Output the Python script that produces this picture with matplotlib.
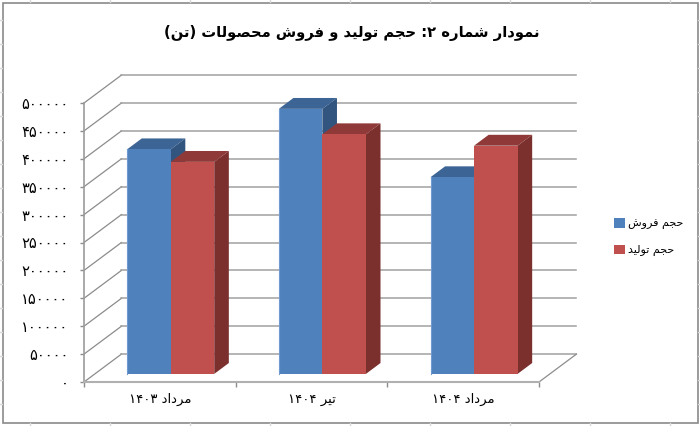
'''
Grouped 3D-look column chart: sales and production volume (tons).
'''

# imports
import matplotlib
matplotlib.use('Agg')
import matplotlib.pyplot as plt
import numpy as np

# the data
categories = ['مرداد ۱۴۰۳', 'تیر ۱۴۰۴', 'مرداد ۱۴۰۴']
sales = [402500, 475000, 352500]
production = [380000, 429500, 409000]
series_names = ['حجم فروش', 'حجم تولید']
y_ticks = [0, 50000, 100000, 150000, 200000, 250000, 300000, 350000, 400000, 450000, 500000]
title = 'نمودار شماره ۲: حجم تولید و فروش محصولات (تن)'

# Arabic presentation forms: isolated, final, initial, medial
forms = {
    'ا': 'ﺍﺎ', 'د': 'ﺩﺪ', 'ر': 'ﺭﺮ', 'و': 'ﻭﻮ',
    'ب': 'ﺏﺐﺑﺒ', 'ت': 'ﺕﺖﺗﺘ', 'ج': 'ﺝﺞﺟﺠ', 'ح': 'ﺡﺢﺣﺤ',
    'ش': 'ﺵﺶﺷﺸ', 'ص': 'ﺹﺺﺻﺼ', 'ف': 'ﻑﻒﻓﻔ', 'ل': 'ﻝﻞﻟﻠ',
    'م': 'ﻡﻢﻣﻤ', 'ن': 'ﻥﻦﻧﻨ', 'ی': 'ﯼﯽﯾﯿ',
}
no_left_join = 'ادرو'


def shape(text):
    # matplotlib has no Arabic shaping, so join the letters and lay them out right to left
    out = []
    for i, ch in enumerate(text):
        if ch not in forms:
            out.append({'(': ')', ')': '('}.get(ch, ch))
            continue
        before = i > 0 and text[i - 1] in forms and text[i - 1] not in no_left_join
        after = i + 1 < len(text) and text[i + 1] in forms and ch not in no_left_join
        if before and after:
            out.append(forms[ch][3])
        elif after:
            out.append(forms[ch][2])
        elif before:
            out.append(forms[ch][1])
        else:
            out.append(forms[ch][0])
    out = out[::-1]
    # digit runs still read left to right
    res, run = [], []
    for ch in out:
        if ch in '۰۱۲۳۴۵۶۷۸۹':
            run.append(ch)
        else:
            res.extend(run[::-1])
            run = []
            res.append(ch)
    res.extend(run[::-1])
    return ''.join(res)


def persian_number(v):
    return str(v).translate(str.maketrans('0123456789', '۰۱۲۳۴۵۶۷۸۹'))


plt.rcParams['font.family'] = ['DejaVu Sans']

W, H = 700, 426
fig = plt.figure(figsize=(W / 100, H / 100), dpi=100)
ax = fig.add_axes([84 / W, 1 - 382 / H, 455 / W, 279 / H])
ax.set_xlim(0, 3)
ax.set_ylim(0, 500000)
ax.patch.set_visible(False)
for s in ax.spines.values():
    s.set_visible(False)

# depth of the box in data units
depth_x = 0.247
depth_y = 50000
bar_width = 0.287
bar_front = 0.29
bar_back = 0.68
grid_color = '#a0a0a0'

# walls
for v in y_ticks:
    ax.plot([0, depth_x], [v, v + depth_y], color='#8c8c8c', lw=0.9, clip_on=False, zorder=1)
    ax.plot([depth_x, 3 + depth_x], [v + depth_y, v + depth_y], color=grid_color, lw=1.1,
            clip_on=False, zorder=1)
ax.plot([3, 3 + depth_x], [0, depth_y], color='#8c8c8c', lw=0.9, clip_on=False, zorder=1)
ax.plot([0, 0], [0, 500000], color='#9c9c9c', lw=1.2, clip_on=False, zorder=4)
ax.plot([0, 3], [0, 0], color='#b0b0b0', lw=1.5, clip_on=False, zorder=4)

# bars
colors = [('#4f81bd', '#3c6494', '#32557f', '#6f9bd0'), ('#c0504d', '#8f3a38', '#7c302e', '#d98f8d')]
x = np.arange(3) + 0.5 + bar_front * depth_x
base = bar_front * depth_y
dx = (bar_back - bar_front) * depth_x
dy = (bar_back - bar_front) * depth_y
handles = []
for k, vals in enumerate([sales, production]):
    front, top, side, edge = colors[k]
    left = x - bar_width + k * bar_width
    z = 5 + k
    b = ax.bar(left, vals, bar_width, bottom=base, align='edge', color=front, clip_on=False,
               zorder=z + 0.5, linewidth=0)
    handles.append(b)
    for l, v in zip(left, vals):
        r = l + bar_width
        t = base + v
        ax.fill([l, l + dx, r + dx, r], [t, t + dy, t + dy, t], color=top, lw=0, clip_on=False, zorder=z)
        ax.fill([r, r + dx, r + dx, r], [base, base + dy, t + dy, t], color=side, lw=0, clip_on=False, zorder=z)
        if k == 0:
            ax.plot([l, l], [base, t], color=edge, lw=0.8, clip_on=False, zorder=z + 0.6)

# ticks
ax.set_yticks(y_ticks)
ax.set_yticklabels([persian_number(v) for v in y_ticks], fontsize=10.5, color='black')
ax.set_xticks([0, 1, 2, 3])
ax.set_xticklabels([])
ax.tick_params(axis='y', length=3, width=1, color='#8c8c8c', pad=8)
ax.tick_params(axis='x', length=3.6, width=1, color='#8c8c8c')
for i, c in enumerate(categories):
    ax.annotate(shape(c), xy=(i + 0.5, 0), xycoords='data', xytext=(0, -17), textcoords='offset pixels',
                ha='center', va='center', fontsize=9.5, color='black', annotation_clip=False)

fig.text(352 / W, 1 - 33 / H, shape(title), fontsize=10.6, fontweight='bold', ha='center', va='center',
         color='black')

leg = fig.legend([h[0] for h in handles], [shape(s) for s in series_names], loc='center left',
                 bbox_to_anchor=(604 / W, 1 - 237 / H), frameon=False, fontsize=8, handlelength=1.0,
                 handleheight=1.0, handletextpad=0.3, labelspacing=1.35)

# chart frame and the sheet cells around it
border = '#8a8a8a'
fig.add_artist(plt.Rectangle((2.5 / W, 3.5 / H), 695 / W, 419.5 / H, fill=False, edgecolor=border, lw=1.2,
                             transform=fig.transFigure))
for px in range(30, W, 80):
    fig.add_artist(plt.Line2D([px / W, px / W], [1 - 2 / H, 1], color='#d8d8d8', lw=1))
    fig.add_artist(plt.Line2D([px / W, px / W], [0, 3 / H], color='#d8d8d8', lw=1))
for py in range(20, H, 24):
    fig.add_artist(plt.Line2D([0, 2 / W], [1 - py / H, 1 - py / H], color='#d8d8d8', lw=1))
    fig.add_artist(plt.Line2D([698 / W, 1], [1 - py / H, 1 - py / H], color='#d8d8d8', lw=1))

fig.savefig('out.png', dpi=100, facecolor='white')
